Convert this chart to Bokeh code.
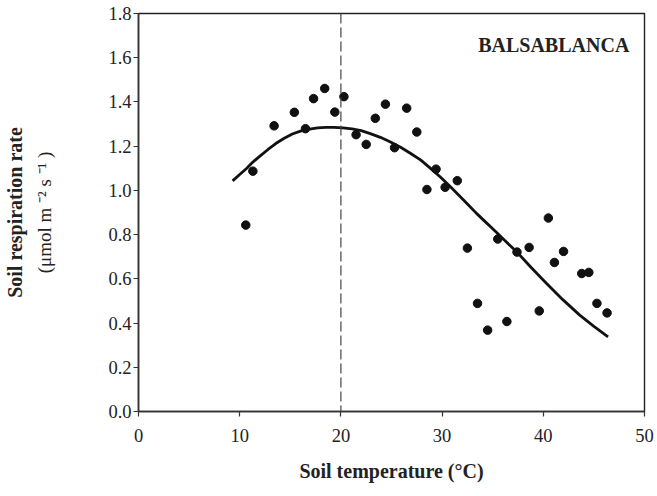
from bokeh.plotting import figure
from bokeh.models import Range1d, FixedTicker, NumeralTickFormatter, Label, Span, LinearAxis
from bokeh.embed import file_html
from bokeh.resources import INLINE

# Observed data (soil temperature in °C, soil respiration rate)
temp_obs = [10.6, 11.3, 13.4, 15.4, 16.5, 17.3, 18.4, 19.4, 20.3, 21.5, 22.5,
            23.4, 24.4, 25.3, 26.5, 27.5, 28.5, 29.4, 30.3, 31.5, 32.5, 33.5,
            34.5, 35.5, 36.4, 37.4, 38.6, 39.6, 40.5, 41.1, 42.0, 43.8, 44.5,
            45.3, 46.3]
resp_obs = [0.843, 1.087, 1.292, 1.353, 1.279, 1.415, 1.461, 1.354, 1.424, 1.252,
            1.208, 1.326, 1.390, 1.193, 1.372, 1.264, 1.004, 1.096, 1.014, 1.044,
            0.739, 0.489, 0.368, 0.780, 0.407, 0.721, 0.742, 0.455, 0.875, 0.674,
            0.724, 0.624, 0.629, 0.489, 0.446]

# Fitted curve
temp_fit = [9.3, 10.0, 10.7, 11.3, 12.0, 12.8, 13.6, 14.4, 15.2, 16.0, 16.9,
            17.7, 18.5, 19.3, 20.2, 21.1, 22.0, 22.9, 23.9, 24.9, 25.9, 26.9,
            27.9, 28.8, 29.8, 30.8, 31.8, 32.6, 33.4, 34.2, 35.0, 36.2, 37.4,
            38.8, 40.3, 41.9, 43.6, 45.0, 46.4]
resp_fit = [1.043, 1.072, 1.100, 1.128, 1.155, 1.185, 1.213, 1.236, 1.255, 1.268,
            1.277, 1.283, 1.285, 1.285, 1.283, 1.278, 1.270, 1.257, 1.240, 1.219,
            1.195, 1.167, 1.137, 1.102, 1.062, 1.018, 0.971, 0.934, 0.896, 0.861,
            0.826, 0.773, 0.721, 0.651, 0.580, 0.507, 0.436, 0.385, 0.338]

optimum_temp = 20
x_ticks = [0, 10, 20, 30, 40, 50]
y_ticks = [0.0, 0.2, 0.4, 0.6, 0.8, 1.0, 1.2, 1.4, 1.6, 1.8]
site_name = "BALSABLANCA"

SERIF = "Liberation Serif"
INK = "#222222"

p = figure(width=657, height=496, output_backend="svg", toolbar_location=None,
           x_range=Range1d(0, 50), y_range=Range1d(0, 1.8),
           min_border_left=137, min_border_right=13, min_border_top=13,
           min_border_bottom=85)
p.background_fill_color = "white"
p.border_fill_color = "white"
p.xgrid.visible = False
p.ygrid.visible = False
p.outline_line_color = INK
p.outline_line_width = 1.4

for ax in (p.xaxis[0], p.yaxis[0]):
    ax.axis_line_color = "#333333"
    ax.axis_line_width = 1.6
    ax.major_tick_line_color = "#333333"
    ax.major_tick_line_width = 1.2
    ax.major_tick_in = 0
    ax.major_tick_out = 5
    ax.minor_tick_line_color = None
    ax.major_label_text_font = SERIF
    ax.major_label_text_font_size = "18.5px"
    ax.major_label_text_color = INK

p.xaxis.ticker = FixedTicker(ticks=x_ticks)
p.yaxis.ticker = FixedTicker(ticks=y_ticks)
p.yaxis.formatter = NumeralTickFormatter(format="0.0")
p.xaxis.major_label_standoff = 12
p.yaxis.major_label_standoff = 2

p.xaxis.axis_label = "Soil temperature (°C)"
p.xaxis.axis_label_text_font = SERIF
p.xaxis.axis_label_text_font_style = "bold"
p.xaxis.axis_label_text_font_size = "20px"
p.xaxis.axis_label_text_color = INK
p.xaxis.axis_label_standoff = 15

# Units line of the y title (regular), on the main y axis
p.yaxis.axis_label = "(μmol m ⁻² s ⁻¹ )"
p.yaxis.axis_label_text_font = SERIF
p.yaxis.axis_label_text_font_style = "normal"
p.yaxis.axis_label_text_font_size = "19px"
p.yaxis.axis_label_text_color = INK
p.yaxis.axis_label_standoff = 50

# Bold first line of the y title, on an extra (invisible) axis further out
title_axis = LinearAxis(axis_label="Soil respiration rate", ticker=FixedTicker(ticks=[]),
                        axis_line_color=None, major_tick_line_color=None,
                        minor_tick_line_color=None, major_label_text_font_size="0px",
                        major_tick_out=0, major_tick_in=0, major_label_standoff=0,
                        axis_label_standoff=6)
title_axis.axis_label_text_font = SERIF
title_axis.axis_label_text_font_style = "bold"
title_axis.axis_label_text_font_size = "20px"
title_axis.axis_label_text_color = INK
p.add_layout(title_axis, "left")

# Dashed line at optimum temperature
p.add_layout(Span(location=optimum_temp, dimension="height", line_color="#444444",
                  line_width=1.2, line_dash="10 4"))

p.line(temp_fit, resp_fit, line_color="#111111", line_width=2.8)
p.scatter(temp_obs, resp_obs, size=8.5, marker="circle", fill_color="#111111",
          line_color="#111111")

p.add_layout(Label(x=48.5, y=1.657, text=site_name, text_font=SERIF,
                   text_font_style="bold", text_font_size="20px",
                   text_align="right", text_baseline="alphabetic",
                   text_color=INK))

open("out.html", "w").write(file_html(p, INLINE))
